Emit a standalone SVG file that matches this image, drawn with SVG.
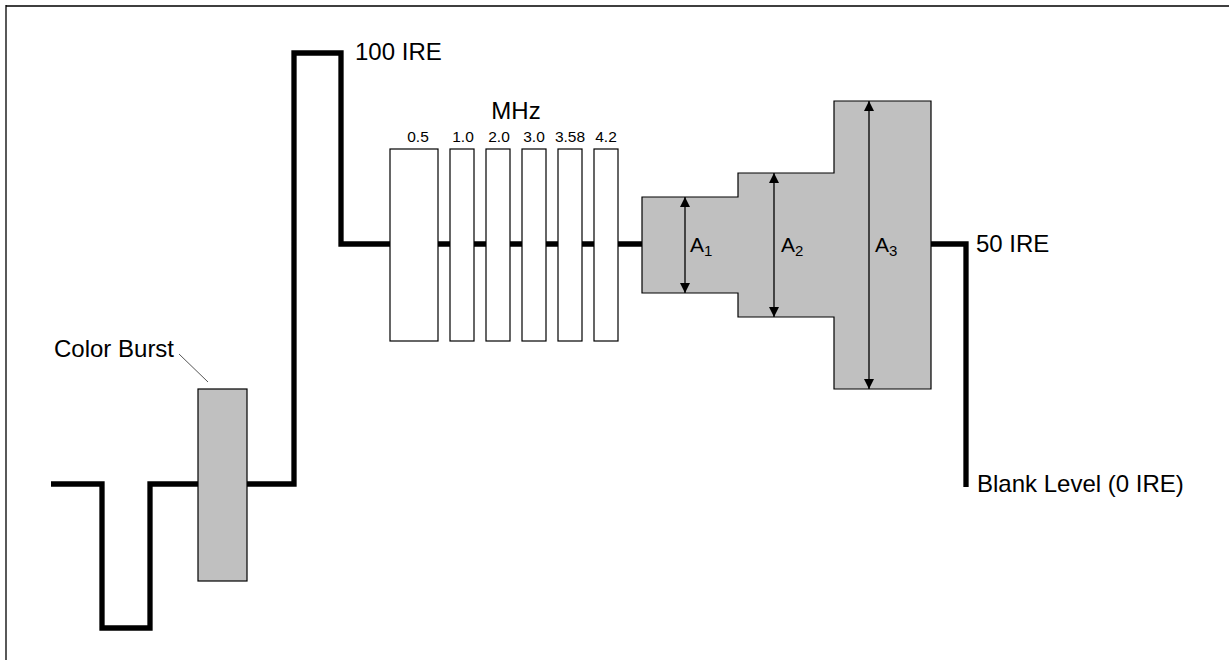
<svg xmlns="http://www.w3.org/2000/svg" width="1229" height="660" viewBox="0 0 1229 660">
<defs>
<style>
text{font-family:"Liberation Sans",Arial,sans-serif;fill:#000}
.lbl{font-size:24px}
.f{font-size:15.5px;text-anchor:middle}
.wb{fill:#fff;stroke:#000;stroke-width:1.2}
.gb{fill:#c0c0c0;stroke:#000;stroke-width:1.2}
.dim{stroke:#000;stroke-width:1.3;fill:none;marker-start:url(#ah);marker-end:url(#ah)}
</style>
<marker id="ah" viewBox="0 0 10 10" refX="10" refY="5" markerWidth="10" markerHeight="10" markerUnits="userSpaceOnUse" orient="auto-start-reverse">
<path d="M0,0 L10,5 L0,10 Z" fill="#000"/>
</marker>
</defs>
<rect width="1229" height="660" fill="#fff"/>
<path d="M6,5 V660 M6,6 H1229" stroke="#000" stroke-width="1.3" fill="none"/>
<g id="connectors">
<path id="waveform" d="M51,484 H102 V628 H150 V484 H294 V53 H341 V244 H966 V487" fill="none" stroke="#000" stroke-width="5.3" stroke-linejoin="miter"/>
<line x1="179" y1="354" x2="208" y2="382" stroke="#555" stroke-width="1"/>
</g>
<g id="color-burst">
<rect class="gb" x="198" y="389" width="49" height="192"/>
<text class="lbl" x="54" y="357">Color Burst</text>
</g>
<g id="label-100ire"><text class="lbl" x="355" y="60">100 IRE</text></g>
<g id="label-50ire"><text class="lbl" x="976" y="252">50 IRE</text></g>
<g id="label-blank"><text class="lbl" x="977" y="492">Blank Level (0 IRE)</text></g>
<g id="multiburst">
<text class="lbl" x="516" y="119" text-anchor="middle">MHz</text>
<rect class="wb" x="390" y="149" width="48" height="192"/>
<rect class="wb" x="450" y="149" width="24" height="192"/>
<rect class="wb" x="486" y="149" width="24" height="192"/>
<rect class="wb" x="522" y="149" width="24" height="192"/>
<rect class="wb" x="558" y="149" width="24" height="192"/>
<rect class="wb" x="594" y="149" width="24" height="192"/>
<text class="f" x="418" y="142">0.5</text>
<text class="f" x="463" y="142">1.0</text>
<text class="f" x="499" y="142">2.0</text>
<text class="f" x="534" y="142">3.0</text>
<text class="f" x="570" y="142">3.58</text>
<text class="f" x="606" y="142">4.2</text>
</g>
<g id="steps">
<path class="gb" d="M642,197 H738 V173 H834 V101 H931 V389 H834 V317 H738 V293 H642 Z"/>
<line class="dim" x1="685" y1="197" x2="685" y2="293"/>
<line class="dim" x1="774" y1="173" x2="774" y2="317"/>
<line class="dim" x1="869" y1="101" x2="869" y2="389"/>
<text x="690" y="252" font-size="21">A<tspan font-size="15" dy="4">1</tspan></text>
<text x="781" y="252" font-size="21">A<tspan font-size="15" dy="4">2</tspan></text>
<text x="875" y="252" font-size="21">A<tspan font-size="15" dy="4">3</tspan></text>
</g>
</svg>
